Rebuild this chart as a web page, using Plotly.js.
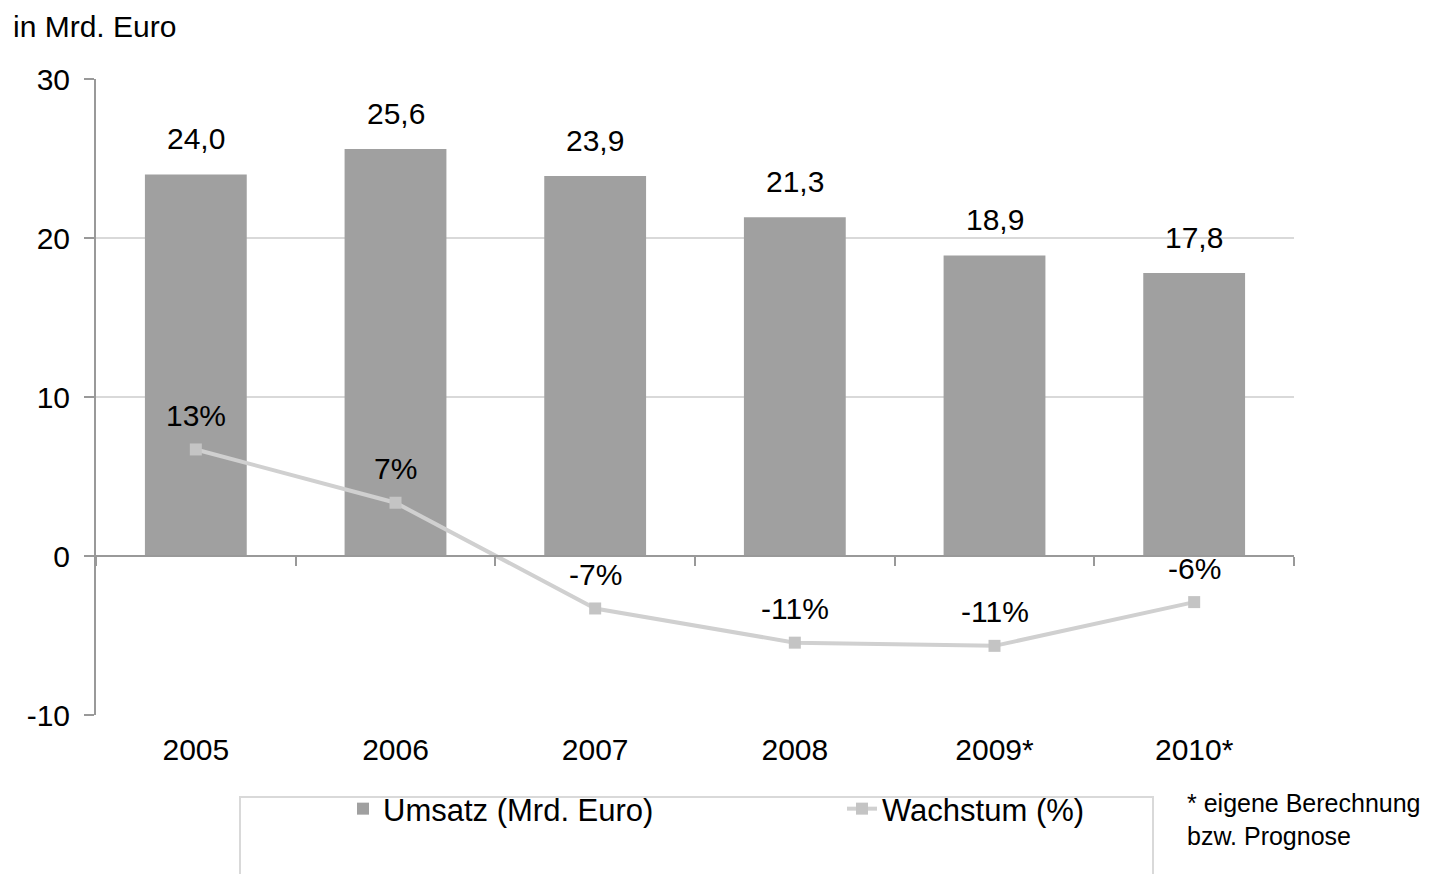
<!DOCTYPE html>
<html>
<head>
<meta charset="utf-8">
<script src="https://cdn.plot.ly/plotly-3.0.1.min.js"></script>
<style>
  html, body { margin: 0; padding: 0; background: #fff; }
  #plot1 { width: 1438px; height: 874px; }
</style>
</head>
<body>
<div id="plot1"></div>
<script>
// categories
const years = ['2005', '2006', '2007', '2008', '2009*', '2010*'];

// Umsatz in Mrd. Euro
const umsatz = [24.0, 25.6, 23.9, 21.3, 18.9, 17.8];

// Wachstum in %
const wachstum = [13.4, 6.7, -6.6, -10.9, -11.3, -5.8];

// y axis ticks (hyphen minus like the original)
const yTickVals = [-10, 0, 10, 20, 30];
const yTickText = ['-10', '0', '10', '20', '30'];

const fontFam = '"Liberation Sans", Arial, sans-serif';

const trace1 = {
    x: years,
    y: umsatz,
    type: 'bar',
    name: 'Umsatz (Mrd. Euro)',
    marker: { color: '#a0a0a0' },
    hoverinfo: 'skip',
};

const trace2 = {
    x: years,
    y: wachstum,
    xaxis: 'x2',
    yaxis: 'y2',
    type: 'scatter',
    mode: 'lines+markers',
    name: 'Wachstum (%)',
    line: { color: '#d0d0d0', width: 4 },
    marker: { symbol: 'square', size: 12, color: '#c4c4c4' },
    hoverinfo: 'skip',
};

// value labels (x given as category index, '2005' would be read as a number)
const labels = [];
umsatz.forEach((v, i) => {
    labels.push({
        x: i, y: v, xref: 'x', yref: 'y',
        text: v.toFixed(1).replace('.', ','),
        showarrow: false, yanchor: 'bottom', yshift: 17,
        font: { size: 30, color: '#000' },
    });
});
wachstum.forEach((v, i) => {
    labels.push({
        x: i, y: v, xref: 'x2', yref: 'y2',
        text: Math.round(v) + '%',
        showarrow: false, yanchor: 'middle', yshift: 34,
        font: { size: 30, color: '#000' },
    });
});

labels.push({
    text: 'in Mrd. Euro', xref: 'paper', yref: 'paper',
    x: -0.071, y: 1.083, xanchor: 'left', yanchor: 'middle',
    showarrow: false, font: { size: 30, color: '#000' },
});
labels.push({
    text: '* eigene Berechnung<br>bzw. Prognose', xref: 'paper', yref: 'paper',
    x: 1.0 + (1185 - 1294) / 1198, y: -0.113, xanchor: 'left', yanchor: 'top',
    align: 'left', showarrow: false, font: { size: 25, color: '#000' },
});

const layout = {
    width: 1438,
    height: 874,
    margin: { l: 96, r: 144, t: 79, b: 159 },
    paper_bgcolor: '#fff',
    plot_bgcolor: '#fff',
    font: { family: fontFam, size: 30, color: '#000' },
    bargap: 0.49,
    showlegend: true,
    legend: {
        orientation: 'h',
        xref: 'container', yref: 'container',
        x: 343 / 1438, y: 1 - 782 / 874,
        xanchor: 'left', yanchor: 'top',
        entrywidth: 454,
        font: { size: 31, color: '#000' },
        bgcolor: 'rgba(0,0,0,0)',
    },
    xaxis: {
        type: 'category',
        range: [-0.5, 5.5],
        showline: false,
        showgrid: false,
        ticks: '',
        ticklabelstandoff: 14,
        tickfont: { size: 30 },
    },
    xaxis2: {
        type: 'category',
        overlaying: 'x',
        anchor: 'free',
        position: 0.25,
        range: [-0.5, 5.5],
        tickson: 'boundaries',
        ticks: 'outside',
        ticklen: 9,
        tickwidth: 2,
        tickcolor: '#999',
        showline: true,
        linecolor: '#999',
        linewidth: 2,
        showgrid: false,
        showticklabels: false,
    },
    yaxis: {
        range: [-10, 30],
        tickmode: 'array',
        tickvals: yTickVals,
        ticktext: yTickText,
        ticks: 'outside',
        ticklen: 10,
        tickwidth: 2,
        tickcolor: '#999',
        showline: true,
        linecolor: '#999',
        linewidth: 2,
        gridcolor: '#d9d9d9',
        gridwidth: 2,
        zeroline: false,
        tickfont: { size: 30 },
        ticklabelstandoff: 8,
    },
    yaxis2: {
        overlaying: 'y',
        anchor: 'x2',
        range: [-20, 60],
        visible: false,
    },
    shapes: [{
        type: 'rect', xref: 'paper', yref: 'paper',
        x0: (240 - 96) / 1198, x1: (1153 - 96) / 1198,
        y0: (715 - 900) / 636, y1: (715 - 797) / 636,
        line: { color: '#d9d9d9', width: 2 },
        fillcolor: 'rgba(0,0,0,0)',
    }],
    annotations: labels,
};

Plotly.newPlot('plot1', [trace1, trace2], layout, { staticPlot: true });
</script>
</body>
</html>
